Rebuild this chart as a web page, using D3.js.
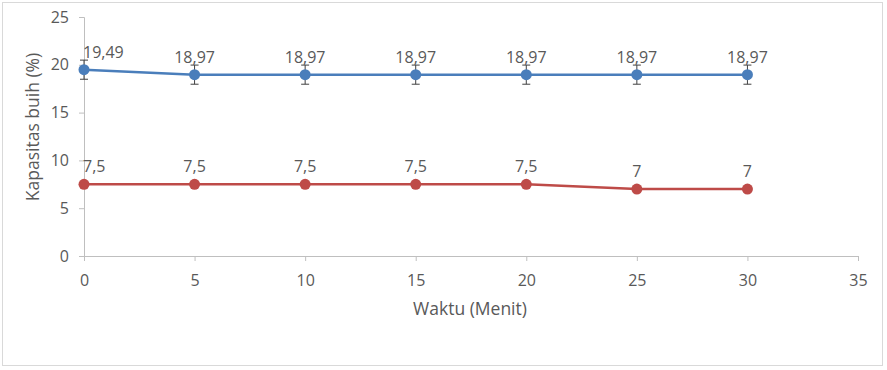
<!DOCTYPE html>
<html><head><meta charset="utf-8">
<script src="https://cdn.jsdelivr.net/npm/d3@7"></script>
<style>body{margin:0;background:#fff;} text{font-family:"Open Sans","Liberation Sans",sans-serif;}</style>
</head><body><svg id="c" width="887" height="370"></svg>
<script>
const times = [0, 5, 10, 15, 20, 25, 30];
const blueValues = [19.49, 18.97, 18.97, 18.97, 18.97, 18.97, 18.97];
const blueLabels = ["19,49", "18,97", "18,97", "18,97", "18,97", "18,97", "18,97"];
const blueErrors = [1, 1, 1, 1, 1, 1, 1];
const redValues = [7.5, 7.5, 7.5, 7.5, 7.5, 7, 7];
const redLabels = ["7,5", "7,5", "7,5", "7,5", "7,5", "7", "7"];
const xTicks = [0, 5, 10, 15, 20, 25, 30, 35];
const yTicks = [0, 5, 10, 15, 20, 25];

const svg = d3.select("#c");
svg.append("rect").attr("x", 2.5).attr("y", 2.5).attr("width", 880).attr("height", 363)
  .attr("fill", "#fff").attr("stroke", "#d9d9d9");

const x = d3.scaleLinear().domain([0, 35]).range([84, 858]);
const y = d3.scaleLinear().domain([0, 25]).range([256, 17]);
const textCol = "#595959", axisCol = "#bfbfbf";

const yAxis = svg.append("g").attr("transform", "translate(84,0)")
  .call(d3.axisLeft(y).tickValues(yTicks).tickSize(5).tickPadding(10));
const xAxis = svg.append("g").attr("transform", "translate(0,256)")
  .call(d3.axisBottom(x).tickValues(xTicks).tickSize(5).tickPadding(14));
[yAxis, xAxis].forEach(a => {
  a.selectAll("path,line").attr("stroke", axisCol);
  a.selectAll("text").attr("fill", textCol).attr("font-size", 16);
});

svg.append("text").attr("x", 470).attr("y", 315).attr("text-anchor", "middle")
  .attr("fill", textCol).attr("font-size", 17.5).text("Waktu (Menit)");
svg.append("text").attr("transform", "translate(39,127) rotate(-90)").attr("text-anchor", "middle")
  .attr("fill", textCol).attr("font-size", 17.5).text("Kapasitas buih (%)");

function series(vals, labels, errs, color) {
  const pts = times.map((t, i) => ({t, v: vals[i], l: labels[i], e: errs ? errs[i] : 0}));
  const g = svg.append("g");
  g.append("path").datum(pts).attr("fill", "none").attr("stroke", color).attr("stroke-width", 2.5)
    .attr("d", d3.line().x(d => x(d.t)).y(d => y(d.v)));
  if (errs) {
    const eb = g.selectAll(".eb").data(pts).enter().append("g").attr("stroke", "#404040").attr("stroke-width", 1);
    eb.append("line").attr("x1", d => x(d.t)).attr("x2", d => x(d.t)).attr("y1", d => y(d.v + d.e)).attr("y2", d => y(d.v - d.e));
    eb.append("line").attr("x1", d => x(d.t) - 4).attr("x2", d => x(d.t) + 4).attr("y1", d => y(d.v + d.e)).attr("y2", d => y(d.v + d.e));
    eb.append("line").attr("x1", d => x(d.t) - 4).attr("x2", d => x(d.t) + 4).attr("y1", d => y(d.v - d.e)).attr("y2", d => y(d.v - d.e));
  }
  g.selectAll("circle").data(pts).enter().append("circle")
    .attr("cx", d => x(d.t)).attr("cy", d => y(d.v)).attr("r", 5.5).attr("fill", color);
  g.selectAll(".lbl").data(pts).enter().append("text")
    .attr("x", d => x(d.t))
    .attr("text-anchor", d => d.t === 0 ? "start" : "middle")
    .attr("dx", d => d.t === 0 ? -1 : 0)
    .attr("y", d => y(d.v) - 12).attr("fill", textCol).attr("font-size", 16).text(d => d.l);
}
series(blueValues, blueLabels, blueErrors, "#4a7ebb");
series(redValues, redLabels, null, "#be4b48");
</script></body></html>
